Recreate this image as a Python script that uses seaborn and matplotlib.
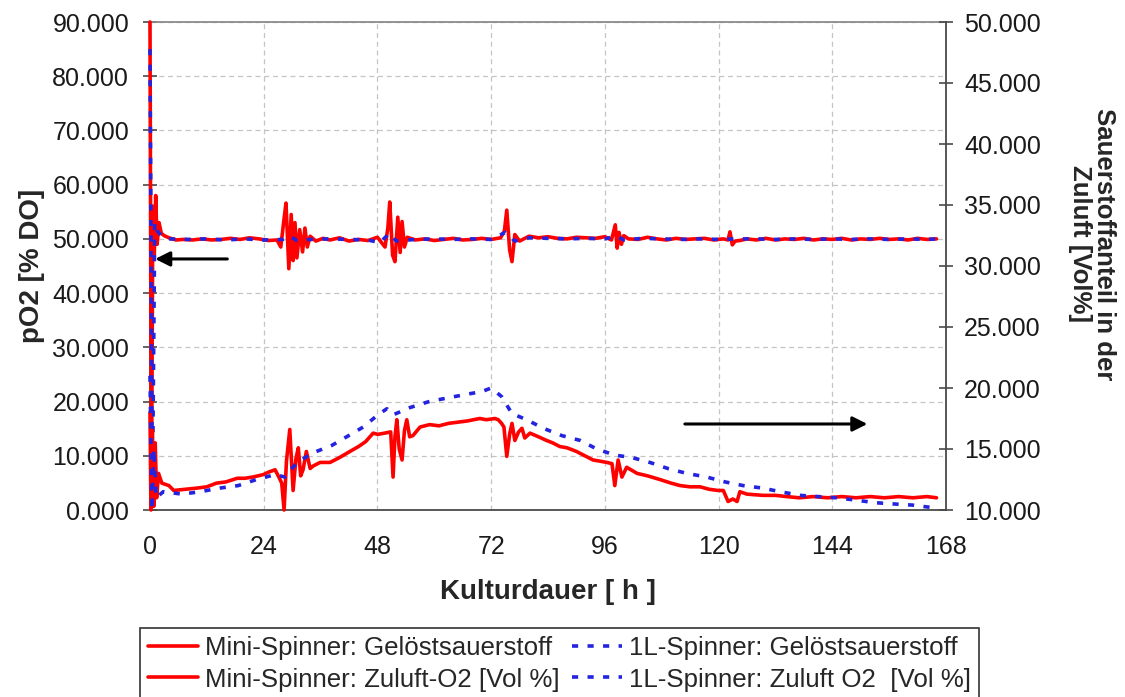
import numpy as np
import pandas as pd
import matplotlib
matplotlib.use("Agg")
import matplotlib.pyplot as plt
from matplotlib.lines import Line2D
from matplotlib.ticker import FormatStrFormatter, MultipleLocator
import seaborn as sns

sns.set_theme(style="white")
plt.rcParams["font.family"] = ["Liberation Sans", "DejaVu Sans"]

# --- Mini-Spinner: dissolved oxygen (left axis, % DO) ---
mini_do_t = [0, 0.3, 0.6, 0.9, 1.2, 1.5, 1.9, 2.4, 3, 4, 5.5, 7, 9, 11, 13, 15, 17, 19, 21, 23, 25,
             26.8, 27.6, 28.2, 28.7, 29.3, 29.8, 30.2, 30.6, 31.0, 31.6, 32.2, 32.7, 33.2, 33.8, 35,
             36.5, 38, 40, 42, 44, 46, 48, 49.6, 50.2, 50.6, 51.2, 51.7, 52.3, 52.8, 53.2, 53.7, 54.3,
             56, 58, 60, 62, 64, 66, 68, 70, 72, 74, 74.8, 75.3, 75.9, 76.4, 77, 78, 80, 82, 84, 86,
             88, 90, 92, 94, 96, 97.4, 98.2, 98.6, 99.0, 99.5, 100, 101, 103, 105, 107, 109, 111, 113,
             115, 117, 119, 121, 122.0, 122.4, 122.9, 123.5, 124.5, 126, 128, 130, 132, 134, 136, 138,
             140, 142, 144, 146, 148, 150, 152, 154, 156, 158, 160, 162, 164, 166]
mini_do = [90, 1, 56, 47, 58, 49, 53, 51, 50.6, 50.2, 49.8, 49.9, 49.8, 50.0, 49.8, 49.9, 50.1, 49.9, 50.2, 50.0, 49.7,
           49.8, 48.5, 53, 56.6, 44.5, 54.5, 46, 53, 46.5, 51.7, 47.6, 52, 48.5, 50.5, 49.6,
           50.1, 49.8, 50.2, 49.6, 49.9, 49.7, 50.3, 48.5, 52, 56.8, 47, 45.8, 54, 47.5, 53.2, 48.5, 50.3,
           49.8, 50.0, 49.7, 49.9, 50.1, 49.8, 49.9, 50.1, 49.9, 50.2, 51.5, 55.3, 48, 45.8, 50.8, 49.6, 50.5, 50.2, 50.4, 50.1,
           50.0, 50.3, 50.2, 50.1, 50.4, 49.8, 52.6, 48.3, 51.2, 49.0, 50.6, 50.0, 49.9, 50.3, 50.0, 49.8, 50.1, 49.9,
           50.0, 50.1, 49.8, 50.0, 49.8, 51.3, 48.9, 49.6, 49.7, 50.0, 49.8, 50.1, 49.8, 50.0, 49.9, 50.1,
           49.8, 50.0, 49.9, 50.1, 49.8, 50.0, 49.9, 50.1, 49.9, 50.0, 49.8, 50.1, 49.9, 50.0]

# --- 1L-Spinner: dissolved oxygen (left axis, % DO) ---
big_do_t = [0, 0.5, 1.0, 1.5, 2.5, 4, 8, 12, 16, 20, 24, 28, 29.5, 31, 34, 38, 42, 46, 48.5, 50.5, 52,
            56, 60, 64, 68, 72, 75, 77, 80, 84, 88, 92, 96, 98.5, 100, 104, 108, 112, 116, 120, 124,
            128, 132, 136, 140, 144, 148, 152, 156, 160, 164, 166]
big_do = [85, 1, 53, 51.5, 50.5, 50.0, 49.9, 50.0, 49.8, 50.0, 49.8, 49.9, 50.5, 49.7, 49.9, 50.0, 49.9, 49.8, 49.3, 51.0, 49.6,
          49.9, 50.0, 49.9, 50.0, 49.9, 51.2, 49.6, 50.2, 50.1, 50.0, 50.1, 50.0, 50.5, 49.8, 50.1, 50.0, 49.9, 50.0, 49.9, 50.0,
          50.0, 49.9, 50.0, 49.9, 50.0, 49.9, 50.0, 49.9, 50.0, 49.9, 50.0]

# --- Mini-Spinner: oxygen fraction of inlet gas (right axis, Vol %) ---
mini_o2_t = [0, 0.2, 0.5, 0.8, 1.1, 1.4, 1.8, 2.5, 4, 5, 7.5, 10, 12, 14, 16, 18.4, 20, 21.7, 23.9, 25, 26.4,
             27.2, 27.8, 28.3, 28.8, 29.5, 30.2, 30.8, 31.3, 31.8, 32.3, 33.0, 33.8, 34.4, 35.9, 38, 40, 42.2,
             44, 45.5, 47.1, 48.1, 49.5, 50.8, 51.3, 51.7, 52.1, 52.6, 53.2, 53.7, 54.2, 54.8, 55.5, 57, 59,
             61, 63, 65, 67, 69.6, 71, 72.8, 73.5, 74.2, 74.7, 75.3, 75.9, 76.4, 77, 77.8, 78.5, 79.1, 80.2,
             82, 83.7, 85, 86.5, 88, 90, 92, 93.5, 95, 96.4, 97.5, 98.1, 98.8, 99.6, 100.6, 101.5, 102.8, 105,
             107.6, 110, 111.9, 114, 116.1, 118, 119.9, 121.0, 122, 123, 123.9, 124.5, 126, 129.4, 132, 134.4,
             137, 140, 143, 146, 149, 152, 155, 158, 161, 164, 166]
mini_o2 = [18, 10.0, 16.5, 10.3, 15.5, 11.0, 13.0, 12.2, 12.0, 11.6, 11.7, 11.8, 11.9, 12.2, 12.3, 12.6, 12.6, 12.7, 12.9, 13.1, 13.3,
           12.7, 12.2, 10.0, 14.0, 16.6, 11.6, 14.2, 15.1, 12.8, 13.3, 14.8, 13.4, 13.6, 13.9, 13.9, 14.3, 14.8,
           15.2, 15.6, 16.3, 16.2, 16.3, 16.4, 12.7, 16.0, 17.4, 15.0, 14.1, 16.5, 17.4, 16.0, 16.1, 16.8, 17.0,
           16.9, 17.1, 17.2, 17.3, 17.5, 17.4, 17.5, 17.4, 17.1, 16.8, 14.4, 16.2, 17.1, 15.7, 16.4, 16.7, 15.9, 16.3,
           16.0, 15.7, 15.5, 15.2, 15.1, 14.8, 14.4, 14.1, 14.0, 13.9, 13.8, 12.0, 14.1, 12.7, 13.5, 13.3, 13.0, 12.8,
           12.5, 12.2, 12.0, 11.9, 11.9, 11.7, 11.6, 11.6, 10.7, 10.9, 10.7, 11.5, 11.3, 11.2, 11.2, 11.1,
           11.0, 11.1, 11.0, 11.1, 11.0, 11.1, 11.0, 11.1, 11.0, 11.1, 11.0]

# --- 1L-Spinner: oxygen fraction of inlet gas (right axis, Vol %) ---
big_o2_t = [0, 0.4, 0.8, 1.3, 2.8, 6.8, 10.6, 14.8, 18.6, 22.5, 26.4, 28.5, 31, 34.5, 38.4, 41.5, 45, 48.1,
            50, 51.3, 54.9, 59, 63, 67, 70, 72, 74.2, 76.4, 79.5, 83, 86.9, 90.8, 94.3, 98.1, 101.7, 105.5,
            109.3, 113.3, 117.5, 121.4, 125.2, 129.2, 133, 137.2, 141, 145, 149.2, 153, 156.8, 161, 165, 166]
big_o2 = [21, 10.0, 15.0, 11.0, 11.5, 11.3, 11.5, 11.8, 12.0, 12.5, 12.9, 12.7, 13.9, 14.7, 15.3, 16.0, 16.8, 17.8,
          18.3, 17.8, 18.4, 18.9, 19.2, 19.5, 19.7, 20.0, 19.3, 17.9, 17.4, 16.7, 16.1, 15.7, 15.0, 14.5, 14.3, 13.9,
          13.4, 13.0, 12.7, 12.3, 12.0, 11.8, 11.5, 11.2, 11.1, 11.0, 10.8, 10.6, 10.5, 10.4, 10.2, 10.1]

labels = ["Mini-Spinner: Gelöstsauerstoff", "1L-Spinner: Gelöstsauerstoff",
          "Mini-Spinner: Zuluft-O2 [Vol %]", "1L-Spinner: Zuluft O2  [Vol %]"]
x_ticks = [0, 24, 48, 72, 96, 120, 144, 168]

RED = "#ff0000"
BLUE = "#2424e0"
DASH = (0, (1.7, 2.6))
LW = 2.6

fig = plt.figure(figsize=(11.25, 6.97), dpi=100)
ax = fig.add_axes([150 / 1125, 1 - 510 / 697, 796 / 1125, 488 / 697])
ax2 = ax.twinx()

line_kw = dict(lw=LW, estimator=None, sort=False, clip_on=False, zorder=3)
sns.lineplot(x=mini_do_t, y=mini_do, ax=ax, color=RED, **line_kw)
sns.lineplot(x=big_do_t, y=big_do, ax=ax, color=BLUE, linestyle=DASH, **line_kw)
sns.lineplot(x=mini_o2_t, y=mini_o2, ax=ax2, color=RED, **line_kw)
sns.lineplot(x=big_o2_t, y=big_o2, ax=ax2, color=BLUE, linestyle=DASH, **line_kw)

ax.set_xlim(0, 168)
ax.set_ylim(0, 90)
ax2.set_ylim(10, 50)
ax.set_xticks(x_ticks)
ax.yaxis.set_major_locator(MultipleLocator(10))
ax2.yaxis.set_major_locator(MultipleLocator(5))
ax.yaxis.set_major_formatter(FormatStrFormatter("%.3f"))
ax2.yaxis.set_major_formatter(FormatStrFormatter("%.3f"))

ax.grid(True, color="#c4c4c4", linestyle=(0, (4, 3)), lw=0.9)
ax2.grid(False)
ax.set_axisbelow(True)

for sp in ax.spines.values():
    sp.set_color("#4a4a4a")
    sp.set_linewidth(1.3)
ax.spines["top"].set_color("#8a8a8a")
ax.spines["right"].set_visible(False)
for side in ("left", "top", "bottom"):
    ax2.spines[side].set_visible(False)
ax2.spines["right"].set_color("#4a4a4a")
ax2.spines["right"].set_linewidth(1.3)

tick_kw = dict(direction="inout", length=10, width=1.2, color="#4a4a4a",
               labelsize=18, labelcolor="#1a1a1a")
ax.tick_params(axis="y", pad=10, **tick_kw)
ax.tick_params(axis="x", pad=13, **tick_kw)
ax2.tick_params(axis="y", pad=8, **tick_kw)
ax.tick_params(top=False, right=False)

ax.set_xlabel("Kulturdauer [ h ]", fontsize=20, fontweight="bold")
ax.xaxis.set_label_coords(0.5, -0.142)
ax.set_ylabel("pO2 [% DO]", fontsize=20, fontweight="bold")
ax.yaxis.set_label_coords(-0.132, 0.5)
ax2.set_ylabel("")
fig.text(1092 / 1125, 1 - 244 / 697, "Sauerstoffanteil in der\nZuluft [Vol%]",
         rotation=270, ha="center", va="center", multialignment="center",
         fontsize=18.5, fontweight="bold", linespacing=1.0)

# Arrows pointing to the axis each pair of curves belongs to
ax.annotate("", xy=(0.5, 46.3), xytext=(16.9, 46.3),
            arrowprops=dict(arrowstyle="-|>", lw=2.2, color="black", mutation_scale=22))
ax2.annotate("", xy=(152, 17.05), xytext=(112.3, 17.05),
             arrowprops=dict(arrowstyle="-|>", lw=2.2, color="black", mutation_scale=22))

handles = [Line2D([], [], color=RED, lw=LW),
           Line2D([], [], color=RED, lw=LW),
           Line2D([], [], color=BLUE, lw=LW, linestyle=DASH),
           Line2D([], [], color=BLUE, lw=LW, linestyle=DASH)]
leg_labels = [labels[0], labels[2], labels[1], labels[3]]
leg = fig.legend(handles, leg_labels, ncol=2, loc="upper left",
                 bbox_to_anchor=(140 / 1125, 1 - 628 / 697), fontsize=18.6,
                 frameon=True, fancybox=False, edgecolor="#333333", framealpha=1,
                 handlelength=1.95, handletextpad=0.28, columnspacing=0.45,
                 borderpad=0.3, labelspacing=0.3, borderaxespad=0)
leg.get_frame().set_linewidth(1.2)

fig.savefig("out.png", dpi=100)
